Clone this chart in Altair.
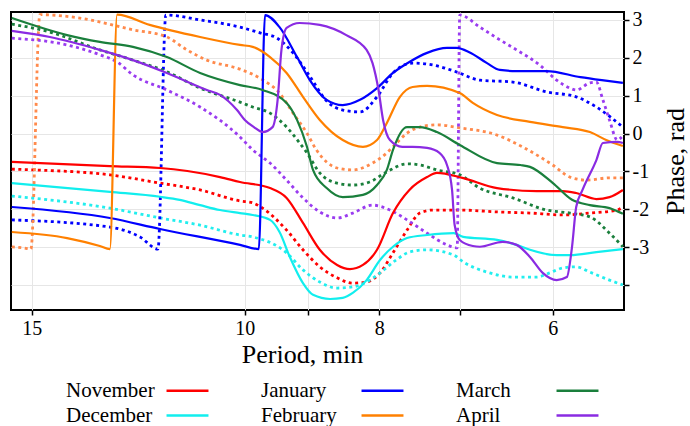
import altair as alt
import pandas as pd

# ---------------- data (period in min, phase in rad) ----------------
legend_order = ["November", "January", "March", "December", "February", "April"]
solid_colors = {"November": "#ff0000", "December": "#11eeee", "January": "#0000ff",
                "February": "#ff8000", "March": "#1a7f3c", "April": "#8a2be2"}
dotted_colors = {"November": "#ff0000", "December": "#22eeee", "January": "#0000ff",
                 "February": "#ff8a4c", "March": "#1a7f3c", "April": "#9a3cf0"}

x_ticks = [14.24, 10, 9, 8, 7, 6]
x_tick_labels = ["15", "10", "", "8", "", "6"]
y_ticks = [-4, -3, -2, -1, 0, 1, 2, 3]
y_tick_labels = ["", "-3", "-2", "-1", "0", "1", "2", "3"]

nov_solid = [[14.72, -0.75], [12.51, -0.86], [11.51, -0.91], [11.0, -0.99], [10.42, -1.15], [10.08, -1.28],
             [9.59, -1.44], [9.33, -1.70], [9.08, -2.36], [8.83, -3.07], [8.58, -3.47], [8.40, -3.58],
             [8.22, -3.47], [8.03, -3.07], [7.82, -2.10], [7.61, -1.49], [7.39, -1.15], [7.27, -1.04],
             [6.97, -1.17], [6.58, -1.44], [6.16, -1.52], [5.90, -1.52], [5.77, -1.57], [5.58, -1.73],
             [5.46, -1.68], [5.34, -1.49]]
nov_dot = [[14.72, -0.94], [14.21, -0.96], [12.51, -1.09], [11.51, -1.31], [10.77, -1.49], [10.08, -1.78],
           [9.87, -1.83], [9.71, -1.97], [9.33, -2.55], [9.08, -3.07], [8.83, -3.52], [8.58, -3.81],
           [8.36, -3.95], [8.17, -3.92], [7.99, -3.68], [7.82, -3.15], [7.64, -2.55], [7.48, -2.10],
           [7.32, -2.02], [7.0, -2.02], [6.58, -2.07], [6.23, -2.10], [5.90, -2.15], [5.64, -2.10],
           [5.39, -2.02], [5.34, -1.94]]
dec_solid = [[14.72, -1.31], [12.51, -1.54], [11.51, -1.67], [11.14, -1.75], [10.77, -1.89], [10.42, -2.02],
             [10.08, -2.10], [9.87, -2.15], [9.59, -2.28], [9.44, -2.60], [9.28, -3.26], [9.08, -3.95],
             [8.93, -4.26], [8.68, -4.37], [8.50, -4.34], [8.36, -4.21], [8.17, -3.87], [7.99, -3.34],
             [7.82, -2.99], [7.64, -2.76], [7.39, -2.68], [7.07, -2.63], [6.96, -2.73], [6.58, -2.81],
             [6.37, -2.94], [6.23, -3.07], [5.96, -3.21], [5.83, -3.21], [5.58, -3.13], [5.34, -3.05]]
dec_dot = [[14.72, -1.65], [12.51, -1.97], [11.51, -2.23], [10.77, -2.42], [10.08, -2.68], [9.87, -2.73],
           [9.33, -3.15], [9.08, -3.60], [8.83, -3.92], [8.58, -4.08], [8.36, -4.05], [8.17, -3.92],
           [7.99, -3.68], [7.78, -3.34], [7.61, -3.13], [7.39, -3.07], [7.07, -3.21], [6.96, -3.39],
           [6.66, -3.68], [6.41, -3.79], [6.16, -3.79], [6.03, -3.68], [5.90, -3.55], [5.77, -3.52],
           [5.64, -3.66], [5.46, -3.87], [5.34, -4.00]]
jan_solid = [[14.72, -1.94], [12.51, -2.23], [11.51, -2.52], [10.08, -2.94], [9.77, -3.05], [9.67, 3.13],
             [9.44, 2.81], [9.17, 2.02], [8.98, 1.42], [8.73, 0.89], [8.50, 0.75], [8.26, 0.89],
             [8.03, 1.20], [7.82, 1.60], [7.61, 1.89], [7.39, 2.13], [7.15, 2.26], [7.04, 2.26],
             [6.89, 2.15], [6.69, 1.86], [6.55, 1.68], [6.37, 1.65], [6.06, 1.65], [5.73, 1.49],
             [5.53, 1.41], [5.34, 1.34]]
jan_dot = [[14.72, -2.28], [12.51, -2.47], [11.90, -2.73], [11.55, -3.05], [11.40, 3.13], [10.77, 3.0],
           [10.08, 2.81], [9.75, 2.66], [9.48, 2.52], [9.23, 2.13], [8.98, 1.52], [8.73, 0.86],
           [8.50, 0.62], [8.26, 0.57], [8.03, 0.97], [7.82, 1.60], [7.57, 1.86], [7.32, 1.81],
           [7.04, 1.63], [6.77, 1.41], [6.41, 1.36], [6.06, 1.10], [5.77, 0.97], [5.58, 0.70],
           [5.34, 0.17]]
feb_solid = [[14.72, -2.60], [13.43, -2.76], [12.72, -2.97], [12.51, -3.05], [12.36, 3.14], [11.71, 2.87],
             [10.77, 2.55], [10.08, 2.34], [9.87, 2.29], [9.59, 2.02], [9.33, 1.60], [9.08, 0.97],
             [8.83, 0.36], [8.50, -0.17], [8.22, -0.35], [8.03, -0.17], [7.90, 0.28], [7.73, 0.97],
             [7.57, 1.23], [7.39, 1.26], [7.0, 1.07], [6.85, 0.81], [6.58, 0.49], [6.23, 0.31],
             [5.90, 0.17], [5.64, 0.04], [5.49, -0.17], [5.34, -0.33]]
feb_dot = [[14.72, -2.99], [14.45, -3.02], [14.26, -3.05], [14.05, 3.14], [13.15, 3.05], [12.04, 2.74],
           [11.38, 2.55], [11.01, 2.21], [10.65, 1.94], [10.08, 1.70], [9.71, 1.42], [9.44, 1.07],
           [9.23, 0.54], [9.02, 0.01], [8.88, -0.43], [8.58, -0.91], [8.36, -0.96], [8.09, -0.78],
           [7.90, -0.51], [7.82, -0.35], [7.64, 0.01], [7.48, 0.17], [7.27, 0.23], [7.0, 0.15],
           [6.58, -0.04], [6.31, -0.35], [6.0, -0.83], [5.83, -1.15], [5.67, -1.23], [5.46, -1.17],
           [5.34, -1.17]]
mar_solid = [[14.72, 3.05], [13.43, 2.60], [12.72, 2.42], [12.04, 2.29], [11.38, 2.02], [10.77, 1.60],
             [10.08, 1.28], [9.71, 1.15], [9.33, 0.81], [9.17, 0.36], [9.02, -0.35], [8.93, -0.96],
             [8.73, -1.44], [8.50, -1.68], [8.22, -1.62], [8.03, -1.36], [7.90, -0.96], [7.82, -0.43],
             [7.64, 0.17], [7.48, 0.17], [7.27, 0.04], [7.0, -0.30], [6.58, -0.78], [6.33, -0.83],
             [6.23, -0.88], [6.0, -1.30], [5.81, -1.75], [5.64, -1.89], [5.46, -1.97], [5.34, -2.12]]
mar_dot = [[14.72, 2.89], [13.82, 2.68], [12.72, 2.21], [12.04, 1.94], [11.38, 1.63], [10.77, 1.20],
           [10.08, 0.83], [9.87, 0.70], [9.59, 0.54], [9.33, 0.17], [9.13, -0.25], [9.02, -0.51],
           [8.83, -1.04], [8.58, -1.31], [8.36, -1.36], [8.13, -1.28], [7.90, -1.01], [7.64, -0.80],
           [7.48, -0.83], [7.27, -0.96], [7.0, -1.09], [6.77, -1.44], [6.41, -1.70], [6.06, -2.02],
           [5.83, -2.10], [5.64, -2.20], [5.46, -2.63], [5.34, -2.99]]
apr_solid = [[14.72, 2.71], [13.82, 2.55], [12.72, 2.21], [12.04, 1.94], [11.38, 1.60], [10.65, 1.15],
             [10.42, 1.02], [10.13, 0.62], [10.0, 0.36], [9.85, 0.17], [9.71, 0.04], [9.55, 0.17],
             [9.47, 0.89], [9.41, 2.21], [9.33, 2.79], [9.13, 2.92], [8.83, 2.87], [8.45, 2.60],
             [8.17, 2.21], [8.09, 1.86], [8.01, 1.15], [7.95, 0.36], [7.86, -0.17], [7.70, -0.35],
             [7.57, -0.35], [7.39, -0.38], [7.24, -0.51], [7.15, -0.83], [7.09, -1.49], [7.06, -2.41],
             [7.0, -2.81], [6.85, -2.97], [6.77, -2.99], [6.52, -2.86], [6.37, -2.94], [6.23, -3.26],
             [6.10, -3.68], [5.96, -3.87], [5.86, -3.79], [5.81, -2.99], [5.77, -1.94], [5.71, -1.49],
             [5.58, -0.70], [5.52, -0.25], [5.39, -0.22], [5.34, -0.25]]
apr_dot = [[14.72, 2.52], [13.43, 2.34], [12.72, 2.08], [12.36, 1.89], [12.04, 1.55], [11.38, 1.15],
           [10.77, 0.70], [10.08, -0.09], [9.87, -0.43], [9.59, -0.78], [9.33, -1.23], [9.08, -1.70],
           [8.83, -2.07], [8.58, -2.23], [8.36, -2.10], [8.09, -1.89], [7.86, -2.02], [7.64, -2.28],
           [7.39, -2.63], [7.15, -2.94], [7.03, -3.02], [7.0, 3.13], [6.77, 2.81], [6.58, 2.52],
           [6.37, 2.21], [6.13, 1.81], [5.96, 1.41], [5.83, 1.20], [5.77, 1.15], [5.64, 1.34],
           [5.58, 1.36], [5.52, 0.89], [5.46, 0.36], [5.39, -0.17], [5.35, -0.09]]

series = [
    ("November", "solid", nov_solid), ("November", "dotted", nov_dot),
    ("December", "solid", dec_solid), ("December", "dotted", dec_dot),
    ("January", "solid", jan_solid), ("January", "dotted", jan_dot),
    ("February", "solid", feb_solid), ("February", "dotted", feb_dot),
    ("March", "solid", mar_solid), ("March", "dotted", mar_dot),
    ("April", "solid", apr_solid), ("April", "dotted", apr_dot),
]
rows = []
for month, style, pts in series:
    for i, (p, v) in enumerate(pts):
        rows.append({"month": month, "style": style, "period": p, "phase": v, "i": i})
df = pd.DataFrame(rows)

FONT = "Liberation Serif"


def label_expr(values, labels):
    expr = ""
    for v, l in zip(values, labels):
        expr += f"datum.value == {v} ? '{l}' : "
    return expr + "''"


x_enc = alt.X(
    "period:Q",
    scale=alt.Scale(type="log", domain=[5.33, 14.74], reverse=True, nice=False, zero=False),
    axis=alt.Axis(values=x_ticks, labelExpr=label_expr(x_ticks, x_tick_labels),
                  title="Period, min", grid=True, domain=False, tickSize=5,
                  labelPadding=3, titlePadding=3, titleX=291,
                  labelFlush=False, labelOverlap=False),
)
y_enc = alt.Y(
    "phase:Q",
    scale=alt.Scale(domain=[-4.66, 3.21], nice=False, zero=False),
    axis=alt.Axis(orient="right", values=y_ticks, labelExpr=label_expr(y_ticks, y_tick_labels),
                  title="Phase, rad", titleAngle=270, titleBaseline="top", titleAlign="center",
                  titleY=149, grid=True,
                  domain=False, tickSize=5, labelPadding=3, titlePadding=14,
                  labelOverlap=False),
)

dotted = alt.Chart(df).transform_filter(alt.datum.style == "dotted").mark_line(
    strokeWidth=2.8, strokeDash=[3, 3.5], interpolate="monotone", clip=True
).encode(
    x=x_enc, y=y_enc,
    color=alt.Color("month:N", scale=alt.Scale(domain=legend_order,
                                                range=[dotted_colors[m] for m in legend_order]),
                    legend=None),
    order=alt.Order("i:Q"),
)

solid = alt.Chart(df).transform_filter(alt.datum.style == "solid").mark_line(
    strokeWidth=2.2, interpolate="monotone", clip=True
).encode(
    x=x_enc, y=y_enc,
    color=alt.Color("month:N", title=None,
                    scale=alt.Scale(domain=legend_order,
                                    range=[solid_colors[m] for m in legend_order]),
                    legend=alt.Legend(orient="none", legendX=55, legendY=368, columns=3,
                                      direction="horizontal",
                                      symbolType="M-4,0H4", symbolSize=110, symbolStrokeWidth=2.5,
                                      symbolOffset=111, labelOffset={"expr": "-132"},
                                      columnPadding=47,
                                      rowPadding=3, padding=0, labelLimit=300,
                                      labelFont=FONT, labelFontSize=21, labelColor="black")),
    order=alt.Order("i:Q"),
)

chart = alt.layer(dotted, solid).resolve_scale(color="independent").properties(
    width=613, height=298,
    autosize=alt.AutoSizeParams(type="none"),
    padding={"left": 11, "top": 12, "right": 66, "bottom": 116},
    background="white",
).configure_view(
    stroke="black", strokeWidth=2
).configure_axis(
    gridColor="#e6e6e6", gridWidth=1, tickColor="black", tickWidth=1.5,
    labelFont=FONT, labelFontSize=20, labelColor="black",
    titleFont=FONT, titleFontSize=26, titleFontWeight="normal", titleColor="black",
)

chart.save("out.html", embed_options={"renderer": "svg", "actions": False})
